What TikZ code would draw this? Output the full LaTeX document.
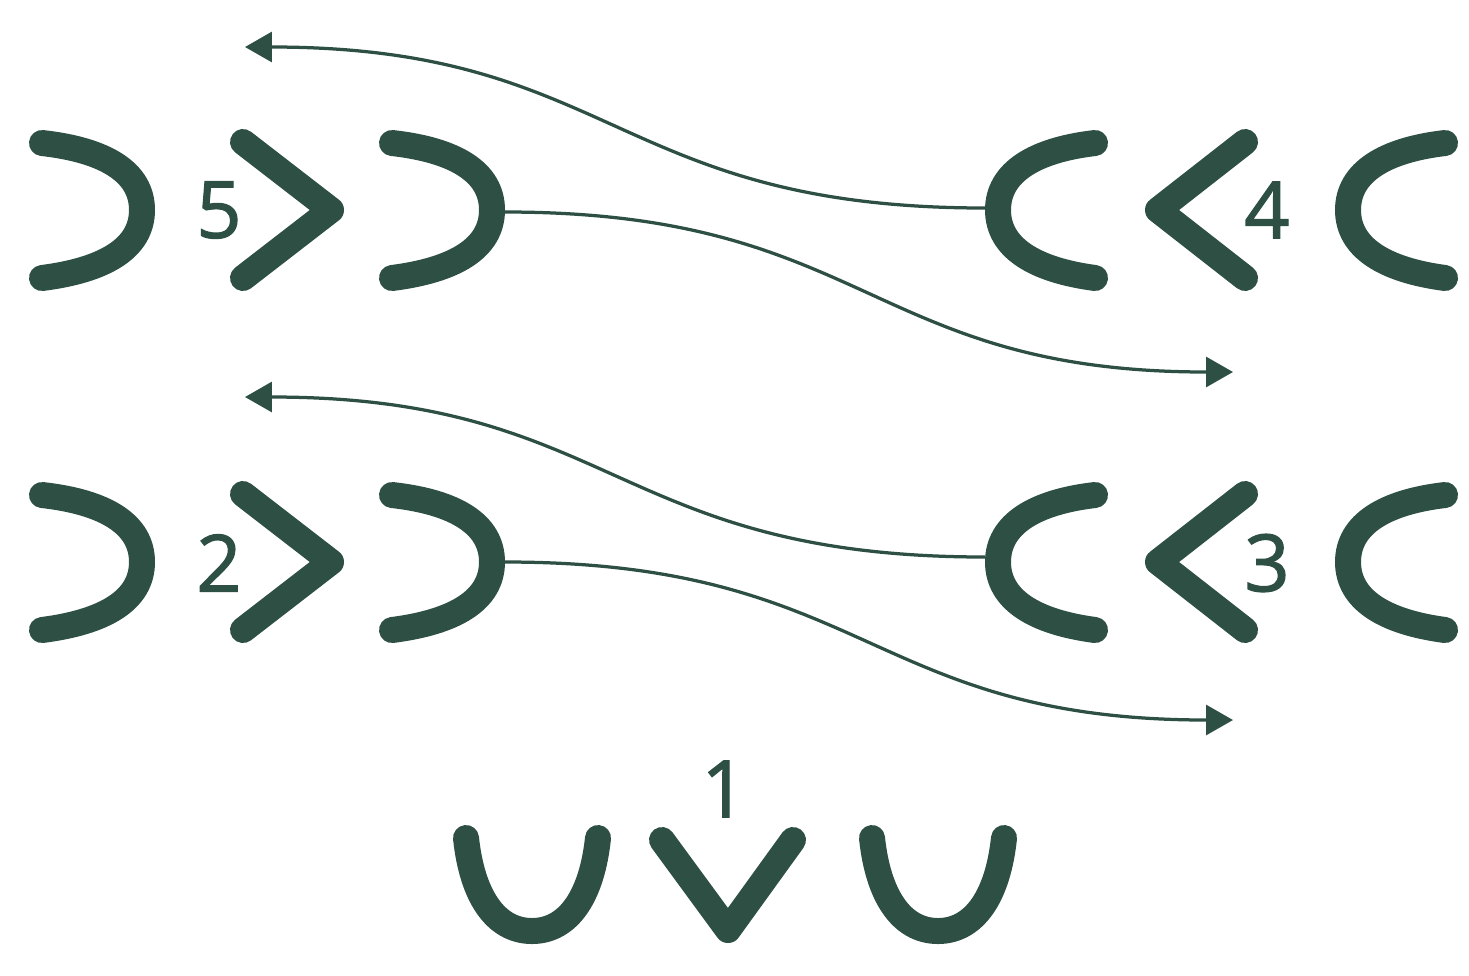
\documentclass[tikz,border=0pt]{standalone}
\usepackage{fontspec}
\setmainfont{Open Sans}
\newfontfamily\numfont[FakeBold=1.5]{Open Sans}
\usetikzlibrary{arrows.meta}
\definecolor{pine}{RGB}{45,79,68}

\begin{document}
\begin{tikzpicture}[x=0.02cm,y=-0.02cm,
  glyph/.style={draw=pine,line width=0.52cm,line cap=round,line join=round},
  num/.style={text=pine,inner sep=0pt,font=\numfont\fontsize{45}{50}\selectfont},
  flow/.style={draw=pine,line width=0.065cm,-{Triangle[length=0.54cm,width=0.6cm]}}]
\useasboundingbox (0,0) rectangle (1469,975);
% two rows of brackets
\foreach \dy in {0,352} {
  \begin{scope}[yshift=-\dy*0.02cm]
  \draw[glyph] (42,143) .. controls (105,150) and (142,172) .. (142,210)
                        .. controls (142,248) and (105,270) .. (42,278);
  \draw[glyph] (243,142) -- (331,210) -- (243,278);
  \draw[glyph] (392,143) .. controls (455,150) and (492,172) .. (492,210)
                         .. controls (492,248) and (455,270) .. (392,278);
  \draw[glyph] (1095,143) .. controls (1035,150) and (998,172) .. (998,210)
                          .. controls (998,248) and (1035,270) .. (1095,278);
  \draw[glyph] (1245,142) -- (1158,210) -- (1245,278);
  \draw[glyph] (1445,143) .. controls (1385,150) and (1348,172) .. (1348,210)
                          .. controls (1348,248) and (1385,270) .. (1445,278);
  \end{scope}
}
% bottom row
\draw[glyph] (466,838) .. controls (472,895) and (495,931) .. (532,931)
                       .. controls (569,931) and (592,895) .. (598,838);
\draw[glyph] (662,840) -- (728,930) -- (793,840);
\draw[glyph] (872,838) .. controls (878,895) and (901,931) .. (938,931)
                       .. controls (975,931) and (998,895) .. (1004,838);
% labels
\node[num] (five)  at (219,210) {5};
\node[num] (four)  at (1267,210) {4};
\node[num] (two)   at (219,563) {2};
\node[num] (three) at (1267,563) {3};
\node[num] (one)   at (724,789) {1};
% connector ends
\coordinate (outA) at (505,212);
\coordinate (tipA) at (1233,372);
\coordinate (outB) at (985,208);
\coordinate (tipB) at (245,47);
\coordinate (outC) at (505,562);
\coordinate (tipC) at (1233,720);
\coordinate (outD) at (985,557);
\coordinate (tipD) at (245,397);
\draw[flow] (outA) .. controls +(364,0) and +(-364,0) .. (tipA);
\draw[flow] (outB) .. controls +(-370,0) and +(370,0) .. (tipB);
\draw[flow] (outC) .. controls +(364,0) and +(-364,0) .. (tipC);
\draw[flow] (outD) .. controls +(-370,0) and +(370,0) .. (tipD);
\end{tikzpicture}
\end{document}
